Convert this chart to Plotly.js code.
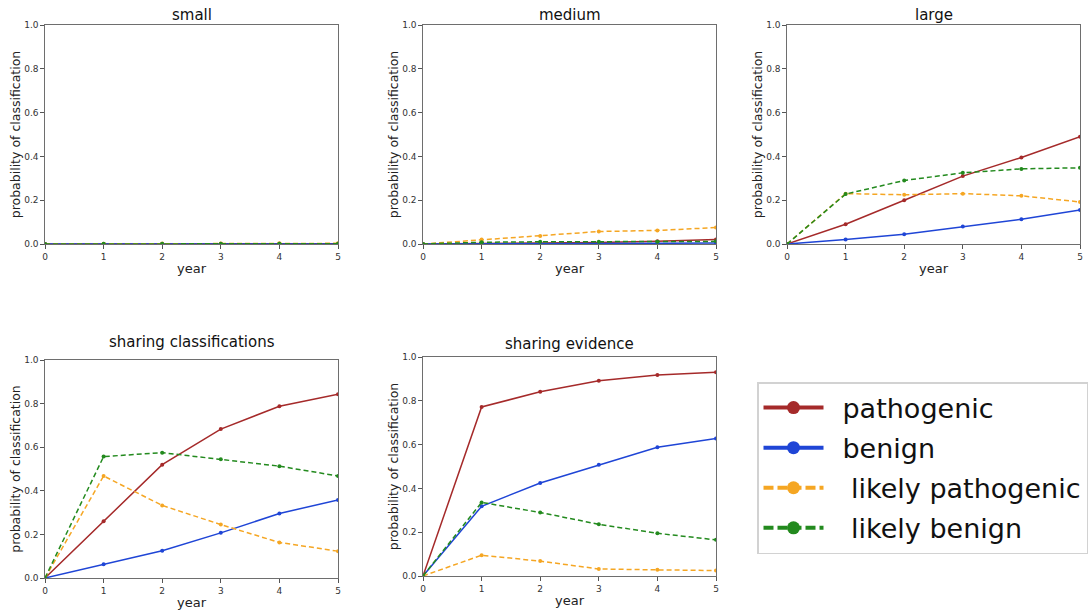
<!DOCTYPE html>
<html>
<head>
<meta charset="utf-8">
<script src="https://cdn.plot.ly/plotly-3.0.1.min.js"></script>
<style>html,body{margin:0;padding:0;background:#fff;}#chart{width:1091px;height:611px;}</style>
</head>
<body>
<div id="chart"></div>
<script>
// ---------- data ----------
const years = [0, 1, 2, 3, 4, 5];
const panelTitles = ['small', 'medium', 'large', 'sharing classifications', 'sharing evidence'];
const seriesNames = ['pathogenic', 'benign', 'likely pathogenic', 'likely benign'];
const legendPads = ['\u00a0\u2009', '\u00a0\u2009', '\u00a0\u00a0\u2009', '\u00a0\u00a0\u2009'];
const xTickLabels = ['0', '1', '2', '3', '4', '5'];
const yTickValues = [0, 0.2, 0.4, 0.6, 0.8, 1.0];
const yTickLabels = ['0.0', '0.2', '0.4', '0.6', '0.8', '1.0'];

const smallPathogenic   = [0, 0.000, 0.000, 0.001, 0.001, 0.001];
const smallBenign       = [0, 0.000, 0.000, 0.000, 0.000, 0.000];
const smallLikelyPath   = [0, 0.001, 0.002, 0.002, 0.003, 0.003];
const smallLikelyBenign = [0, 0.001, 0.001, 0.001, 0.001, 0.001];

const mediumPathogenic   = [0, 0.002, 0.004, 0.007, 0.012, 0.020];
const mediumBenign       = [0, 0.000, 0.001, 0.002, 0.003, 0.005];
const mediumLikelyPath   = [0, 0.020, 0.037, 0.057, 0.062, 0.075];
const mediumLikelyBenign = [0, 0.008, 0.010, 0.010, 0.010, 0.012];

const largePathogenic   = [0, 0.090, 0.200, 0.310, 0.395, 0.490];
const largeBenign       = [0, 0.020, 0.045, 0.080, 0.113, 0.155];
const largeLikelyPath   = [0, 0.230, 0.225, 0.230, 0.220, 0.192];
const largeLikelyBenign = [0, 0.228, 0.290, 0.325, 0.343, 0.348];

const shareClsPathogenic   = [0, 0.260, 0.520, 0.683, 0.788, 0.843];
const shareClsBenign       = [0, 0.063, 0.125, 0.207, 0.296, 0.358];
const shareClsLikelyPath   = [0, 0.468, 0.333, 0.245, 0.163, 0.123];
const shareClsLikelyBenign = [0, 0.557, 0.575, 0.545, 0.513, 0.468];

const shareEvPathogenic   = [0, 0.772, 0.841, 0.892, 0.918, 0.930];
const shareEvBenign       = [0, 0.318, 0.425, 0.508, 0.588, 0.628];
const shareEvLikelyPath   = [0, 0.095, 0.068, 0.032, 0.028, 0.025];
const shareEvLikelyBenign = [0, 0.336, 0.290, 0.236, 0.195, 0.165];

const panels = [
  [smallPathogenic, smallBenign, smallLikelyPath, smallLikelyBenign],
  [mediumPathogenic, mediumBenign, mediumLikelyPath, mediumLikelyBenign],
  [largePathogenic, largeBenign, largeLikelyPath, largeLikelyBenign],
  [shareClsPathogenic, shareClsBenign, shareClsLikelyPath, shareClsLikelyBenign],
  [shareEvPathogenic, shareEvBenign, shareEvLikelyPath, shareEvLikelyBenign]
];

// ---------- styles ----------
const colors = ['#a52a2a', '#1f45d6', '#f5a623', '#238a1e'];
const dashes = ['solid', 'solid', '5px,3px', '5px,3px'];
const W = 1091, H = 611;
// plot-area boxes in pixels [left, right, top, bottom]
const boxes = [
  [45, 338, 25, 244],
  [423, 716, 25, 244],
  [787, 1080, 25, 244],
  [45, 338, 360, 578],
  [423, 716, 357, 576]
];
const titleY = [15, 15, 15, 342, 344];
const font = 'DejaVu Sans, Arial, sans-serif';

const traces = [];
const layout = {
  width: W, height: H,
  margin: {l: 0, r: 0, t: 0, b: 0},
  paper_bgcolor: '#fff', plot_bgcolor: '#fff',
  font: {family: font, color: '#222'},
  showlegend: true,
  legend: {
    x: 757 / W, y: 1 - 382 / H, xanchor: 'left', yanchor: 'top',
    bgcolor: '#fff', bordercolor: '#d2d2d2', borderwidth: 1.5,
    font: {family: font, size: 27, color: '#111'},
    itemwidth: 60, traceorder: 'grouped', tracegroupgap: 2
  },
  annotations: []
};

panels.forEach((series, p) => {
  const ax = p === 0 ? '' : String(p + 1);
  const b = boxes[p];
  series.forEach((vals, s) => {
    traces.push({
      x: years, y: vals, xaxis: 'x' + ax, yaxis: 'y' + ax,
      type: 'scatter', mode: 'lines+markers', name: seriesNames[s],
      showlegend: false, hoverinfo: 'skip',
      line: {color: colors[s], width: 1.5, dash: dashes[s]},
      marker: {color: colors[s], size: 4, symbol: 'circle'}
    });
  });
  const common = {
    showline: true, mirror: true, linecolor: '#6e6e6e', linewidth: 1.2,
    showgrid: false, zeroline: false, ticks: 'outside', ticklen: 3.5,
    tickcolor: '#555', tickfont: {family: font, size: 9, color: '#333'}
  };
  layout['xaxis' + ax] = Object.assign({}, common, {
    domain: [b[0] / W, b[1] / W], range: [0, 5], anchor: 'y' + ax,
    tickmode: 'array', tickvals: years, ticktext: xTickLabels,
    title: {text: 'year', font: {family: font, size: 13, color: '#222'}, standoff: 3}
  });
  layout['yaxis' + ax] = Object.assign({}, common, {
    domain: [1 - b[3] / H, 1 - b[2] / H], range: [0, 1], anchor: 'x' + ax,
    tickmode: 'array', tickvals: yTickValues, ticktext: yTickLabels,
    title: {text: 'probability of classification', font: {family: font, size: 12.5, color: '#222'}, standoff: 0}
  });
  layout.annotations.push({
    text: panelTitles[p], xref: 'paper', yref: 'paper',
    x: (b[0] + b[1]) / 2 / W, y: 1 - titleY[p] / H,
    xanchor: 'center', yanchor: 'middle', showarrow: false,
    font: {family: font, size: 15, color: '#111'}
  });
});

// legend entries (no data of their own, only legend glyphs)
seriesNames.forEach((name, s) => {
  traces.push({
    x: [null], y: [null], xaxis: 'x5', yaxis: 'y5', type: 'scatter',
    mode: 'lines+markers', name: legendPads[s] + name, legendgroup: 'g' + s, showlegend: true,
    hoverinfo: 'skip',
    line: {color: colors[s], width: 4, dash: s >= 2 ? '10px,4px' : 'solid'},
    marker: {color: colors[s], size: 13}
  });
});

Plotly.newPlot('chart', traces, layout, {staticPlot: true, displayModeBar: false});
</script>
</body>
</html>
